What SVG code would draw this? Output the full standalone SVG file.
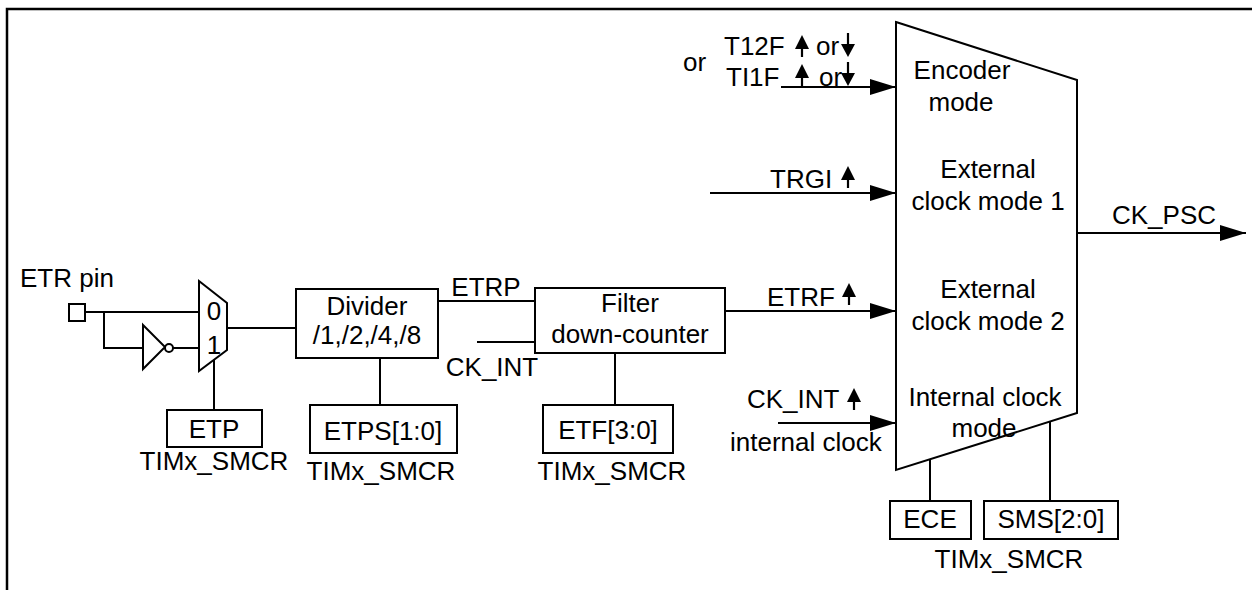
<svg xmlns="http://www.w3.org/2000/svg" width="1252" height="590" viewBox="0 0 1252 590">
<style>
text{font-family:"Liberation Sans",Arial,sans-serif;font-size:26px;fill:#000}
.m{text-anchor:middle}
.s{fill:none;stroke:#000;stroke-width:2}
.box{fill:#fff;stroke:#000;stroke-width:2}
</style>
<defs>
<marker id="ah" markerUnits="userSpaceOnUse" viewBox="0 0 26 16" refX="26" refY="8" markerWidth="26" markerHeight="16" orient="auto"><path d="M0,0L26,8L0,16z" fill="#000"/></marker>
<g id="up"><path d="M0,-22L-7,-8L7,-8z" fill="#000"/><path d="M0,-10V0" stroke="#000" stroke-width="2.2"/></g>
<g id="dn"><path d="M0,0L-7,-13L7,-13z" fill="#000"/><path d="M0,-24V-11" stroke="#000" stroke-width="2.2"/></g>
</defs>
<rect width="1252" height="590" fill="#fff"/>
<g id="frame"><path d="M7,590V9H1252" fill="none" stroke="#000" stroke-width="2.5"/></g>

<g id="connectors">
<path class="s" d="M85,312H199"/>
<path class="s" d="M104,312V348H143"/>
<path class="s" d="M173,348H199"/>
<path class="s" d="M227,328H296"/>
<path class="s" d="M214,360V410"/>
<path class="s" d="M438,301H535"/>
<path class="s" d="M477,342H535"/>
<path class="s" d="M380,358V405"/>
<path class="s" d="M615,353V405"/>
<path class="s" d="M781,87H896" marker-end="url(#ah)"/>
<path class="s" d="M710,193H896" marker-end="url(#ah)"/>
<path class="s" d="M725,311H896" marker-end="url(#ah)"/>
<path class="s" d="M778,423H896" marker-end="url(#ah)"/>
<path class="s" d="M1077,233H1246" marker-end="url(#ah)"/>
<path class="s" d="M930,459V501"/>
<path class="s" d="M1050,422V501"/>
</g>

<g id="etr-pin">
<text x="20" y="287">ETR pin</text>
<rect class="box" x="69" y="304" width="16" height="17"/>
</g>
<g id="inverter">
<path class="box" d="M143,325L165,347L143,369z"/>
<circle class="box" cx="169" cy="348" r="4"/>
</g>
<g id="etp-mux">
<path class="box" d="M199,281L227,303V350L199,371z"/>
<text class="m" x="214" y="320">0</text>
<text class="m" x="214" y="354">1</text>
</g>
<g id="etp">
<rect class="box" x="167" y="410" width="95" height="37"/>
<text class="m" x="214" y="438">ETP</text>
<text class="m" x="214" y="470">TIMx_SMCR</text>
</g>
<g id="divider">
<rect class="box" x="296" y="289" width="142" height="69"/>
<text class="m" x="367" y="315">Divider</text>
<text class="m" x="367" y="344">/1,/2,/4,/8</text>
</g>
<g id="etps">
<rect class="box" x="310" y="405" width="147" height="48"/>
<text class="m" x="383" y="440">ETPS[1:0]</text>
<text class="m" x="381" y="480">TIMx_SMCR</text>
</g>
<g id="etrp-label"><text class="m" x="486" y="296">ETRP</text></g>
<g id="ckint-label"><text class="m" x="492" y="376">CK_INT</text></g>
<g id="filter">
<rect class="box" x="535" y="288" width="190" height="65"/>
<text class="m" x="630" y="312">Filter</text>
<text class="m" x="630" y="343">down-counter</text>
</g>
<g id="etf">
<rect class="box" x="543" y="405" width="130" height="48"/>
<text class="m" x="608" y="439">ETF[3:0]</text>
<text class="m" x="612" y="480">TIMx_SMCR</text>
</g>

<g id="encoder-inputs">
<text x="683" y="71">or</text>
<text x="724" y="55">T12F</text>
<use href="#up" x="802" y="57"/>
<text x="816" y="55">or</text>
<use href="#dn" x="848" y="57"/>
<text x="726" y="86">TI1F</text>
<use href="#up" x="802" y="86"/>
<text x="819" y="86">or</text>
<use href="#dn" x="848" y="86"/>
</g>
<g id="trgi"><text x="770" y="188">TRGI</text><use href="#up" x="848" y="188"/></g>
<g id="etrf"><text x="767" y="306">ETRF</text><use href="#up" x="849" y="305"/></g>
<g id="ck-int">
<text x="747" y="408">CK_INT</text><use href="#up" x="854" y="410"/>
<text x="730" y="451">internal clock</text>
</g>

<g id="mode-mux">
<path class="box" d="M896,22L1077,80V413L896,470z"/>
<text class="m" x="962" y="79">Encoder</text>
<text class="m" x="961" y="111">mode</text>
<text class="m" x="988" y="178">External</text>
<text class="m" x="988" y="210">clock mode 1</text>
<text class="m" x="988" y="298">External</text>
<text class="m" x="988" y="330">clock mode 2</text>
<text class="m" x="985" y="406">Internal clock</text>
<text class="m" x="984" y="437">mode</text>
</g>
<g id="ck-psc"><text class="m" x="1164" y="224">CK_PSC</text></g>
<g id="ece">
<rect class="box" x="890" y="501" width="81" height="38"/>
<text class="m" x="930" y="528">ECE</text>
</g>
<g id="sms">
<rect class="box" x="984" y="501" width="134" height="38"/>
<text class="m" x="1051" y="528">SMS[2:0]</text>
</g>
<g id="smcr-label"><text class="m" x="1009" y="568">TIMx_SMCR</text></g>
</svg>
